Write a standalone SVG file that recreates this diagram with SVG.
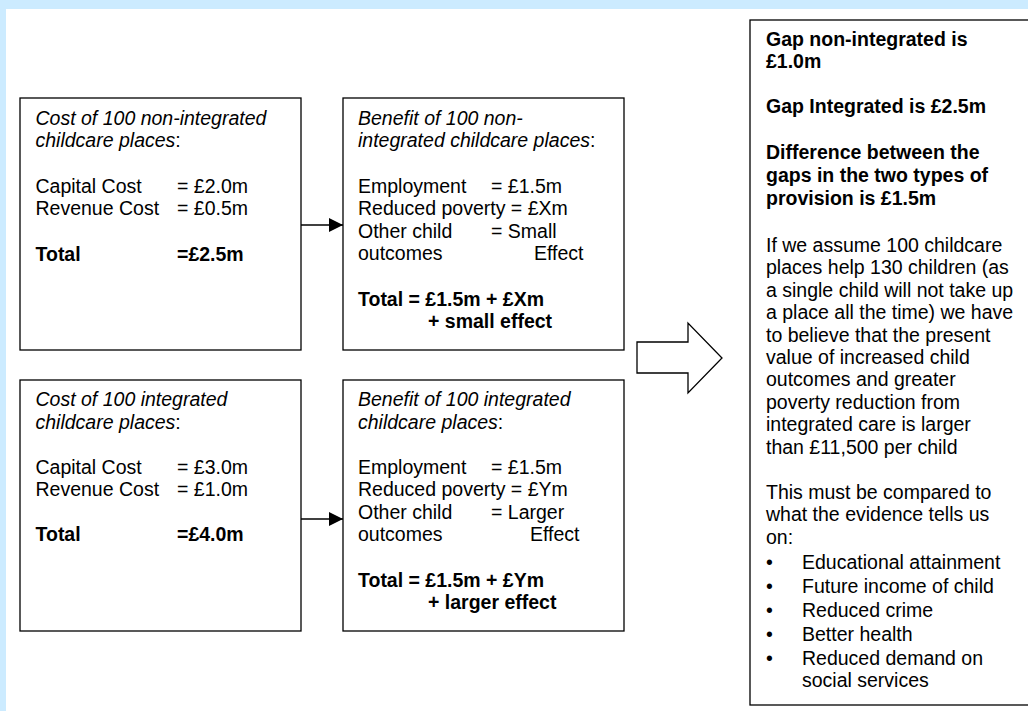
<svg xmlns="http://www.w3.org/2000/svg" width="1028" height="711" viewBox="0 0 1028 711">
<defs>
<style>
text{font-family:"Liberation Sans",Arial,sans-serif;font-size:19.5px;fill:#000}
.i{font-style:italic}
.b{font-weight:bold}
.box{fill:#fff;stroke:#000;stroke-width:1.3}
.conn{stroke:#000;stroke-width:1.3;fill:none}
</style>
<marker id="ah" markerWidth="14" markerHeight="14" refX="14" refY="7" orient="auto" markerUnits="userSpaceOnUse">
<path d="M0,0 L14,7 L0,14 Z" fill="#000"/>
</marker>
</defs>
<rect x="0" y="0" width="1028" height="711" fill="#fff"/>
<rect x="0" y="0" width="1028" height="9" fill="#CCEBFF"/>
<rect x="0" y="0" width="6" height="711" fill="#CCEBFF"/>

<g id="cost-nonint">
<rect class="box" x="20" y="98" width="281" height="252"/>
<text x="35.5" y="124.5" class="i">Cost of 100 non-integrated</text>
<text x="35.5" y="147"><tspan class="i">childcare places</tspan>:</text>
<text x="35.5" y="193">Capital Cost</text><text x="177" y="193">= £2.0m</text>
<text x="35.5" y="215">Revenue Cost</text><text x="177" y="215">= £0.5m</text>
<text x="35.5" y="261" class="b">Total</text><text x="177" y="261" class="b">=£2.5m</text>
</g>

<g id="benefit-nonint">
<rect class="box" x="343" y="98" width="281" height="252"/>
<text x="358" y="124.5" class="i">Benefit of 100 non-</text>
<text x="358" y="147"><tspan class="i">integrated childcare places</tspan>:</text>
<text x="358" y="193">Employment</text><text x="491" y="193">= £1.5m</text>
<text x="358" y="215">Reduced poverty = £Xm</text>
<text x="358" y="237.5">Other child</text><text x="491" y="237.5">= Small</text>
<text x="358" y="260">outcomes</text><text x="534" y="260">Effect</text>
<text x="358" y="306" class="b">Total = £1.5m + £Xm</text>
<text x="428" y="328" class="b">+ small effect</text>
</g>

<g id="cost-int">
<rect class="box" x="20" y="380" width="281" height="251"/>
<text x="35.5" y="406" class="i">Cost of 100 integrated</text>
<text x="35.5" y="428.5"><tspan class="i">childcare places</tspan>:</text>
<text x="35.5" y="474">Capital Cost</text><text x="177" y="474">= £3.0m</text>
<text x="35.5" y="496">Revenue Cost</text><text x="177" y="496">= £1.0m</text>
<text x="35.5" y="541" class="b">Total</text><text x="177" y="541" class="b">=£4.0m</text>
</g>

<g id="benefit-int">
<rect class="box" x="343" y="380" width="281" height="251"/>
<text x="358" y="406" class="i">Benefit of 100 integrated</text>
<text x="358" y="428.5"><tspan class="i">childcare places</tspan>:</text>
<text x="358" y="474">Employment</text><text x="491" y="474">= £1.5m</text>
<text x="358" y="496">Reduced poverty = £Ym</text>
<text x="358" y="518.5">Other child</text><text x="491" y="518.5">= Larger</text>
<text x="358" y="541">outcomes</text><text x="530" y="541">Effect</text>
<text x="358" y="587" class="b">Total = £1.5m + £Ym</text>
<text x="428" y="609" class="b">+ larger effect</text>
</g>

<g id="summary">
<rect class="box" x="750" y="20" width="300" height="685"/>
<text x="766" y="45.5" class="b">Gap non-integrated is</text>
<text x="766" y="68" class="b">£1.0m</text>
<text x="766" y="113" class="b">Gap Integrated is £2.5m</text>
<text x="766" y="159" class="b">Difference between the</text>
<text x="766" y="182" class="b">gaps in the two types of</text>
<text x="766" y="205" class="b">provision is £1.5m</text>
<text x="766" y="252">If we assume 100 childcare</text>
<text x="766" y="274.4">places help 130 children (as</text>
<text x="766" y="296.8">a single child will not take up</text>
<text x="766" y="319.2">a place all the time) we have</text>
<text x="766" y="341.6">to believe that the present</text>
<text x="766" y="364">value of increased child</text>
<text x="766" y="386.4">outcomes and greater</text>
<text x="766" y="408.8">poverty reduction from</text>
<text x="766" y="431.2">integrated care is larger</text>
<text x="766" y="453.6">than £11,500 per child</text>
<text x="766" y="499">This must be compared to</text>
<text x="766" y="521.4">what the evidence tells us</text>
<text x="766" y="543.8">on:</text>
<text x="766" y="568.5">•</text><text x="802" y="568.5">Educational attainment</text>
<text x="766" y="592.5">•</text><text x="802" y="592.5">Future income of child</text>
<text x="766" y="616.5">•</text><text x="802" y="616.5">Reduced crime</text>
<text x="766" y="640.5">•</text><text x="802" y="640.5">Better health</text>
<text x="766" y="664.5">•</text><text x="802" y="664.5">Reduced demand on</text>
<text x="802" y="687">social services</text>
</g>

<g id="connectors">
<line class="conn" x1="301" y1="225" x2="343" y2="225" marker-end="url(#ah)"/>
<line class="conn" x1="301" y1="519" x2="343" y2="519" marker-end="url(#ah)"/>
<polygon class="box" points="637,342 688,342 688,323 722,358 688,393 688,373 637,373"/>
</g>
</svg>
